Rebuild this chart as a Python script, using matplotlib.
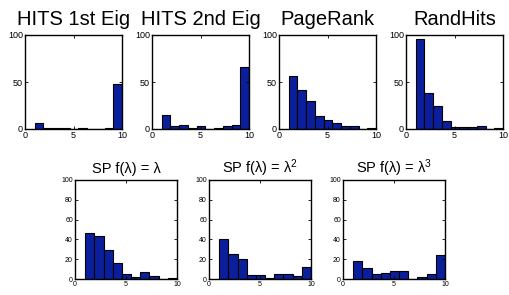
import numpy as np
import matplotlib
matplotlib.use("Agg")
import matplotlib.pyplot as plt

plt.rcParams['font.family'] = ['Liberation Sans', 'DejaVu Sans']
plt.rcParams['mathtext.default'] = 'regular'

# histogram counts, 10 bins over ranks 1..10
hits1 = [6, 1, 1, 1, 0, 1, 0, 0, 1, 48]
hits2 = [15, 3, 4, 1, 3, 0, 1, 3, 4, 66]
pagerank = [56, 41, 30, 14, 10, 6, 3, 3, 0, 1]
randhits = [96, 38, 24, 9, 2, 2, 2, 3, 0, 1]
sp1 = [46, 43, 29, 16, 5, 2, 7, 3, 0, 1]
sp2 = [40, 25, 20, 4, 4, 1, 5, 5, 3, 12]
sp3 = [18, 11, 5, 6, 8, 8, 0, 2, 5, 24]

top_titles = ['HITS 1st Eig', 'HITS 2nd Eig', 'PageRank', 'RandHits']
bot_titles = [r'SP f(λ) = λ', r'SP f(λ) = $λ^2$', r'SP f(λ) = $λ^3$']

edges = np.linspace(1, 10, 11)
centers = (edges[:-1] + edges[1:]) / 2
bw = edges[1] - edges[0]
color = '#0b1f9c'

W, H = 509, 295
fig = plt.figure(figsize=(W / 100, H / 100), dpi=100)


def draw(ax, counts, title, yticks, fs_title, fs_tick, pad):
    ax.bar(centers, counts, width=bw, color=color, edgecolor='black', linewidth=0.8)
    ax.set_xlim(0, 10)
    ax.set_ylim(0, 100)
    ax.set_xticks([0, 5, 10])
    ax.set_yticks(yticks)
    ax.tick_params(direction='in', top=True, right=True, labelsize=fs_tick,
                   length=2, width=0.6, pad=1.5)
    for s in ax.spines.values():
        s.set_linewidth(1.0)
    ax.set_title(title, fontsize=fs_title, pad=pad)


for i, (counts, t) in enumerate(zip([hits1, hits2, pagerank, randhits], top_titles)):
    left = 25 + i * 127
    ax = fig.add_axes([left / W, 166 / H, 97 / W, 94 / H])
    draw(ax, counts, t, [0, 50, 100], 14.5, 6.5, 7.5)

for i, (counts, t) in enumerate(zip([sp1, sp2, sp3], bot_titles)):
    left = 75 + i * 134
    ax = fig.add_axes([left / W, 16 / H, 102 / W, 99 / H])
    draw(ax, counts, t, [0, 20, 40, 60, 80, 100], 10.5, 5, 5)

fig.savefig('out.png', dpi=100)
